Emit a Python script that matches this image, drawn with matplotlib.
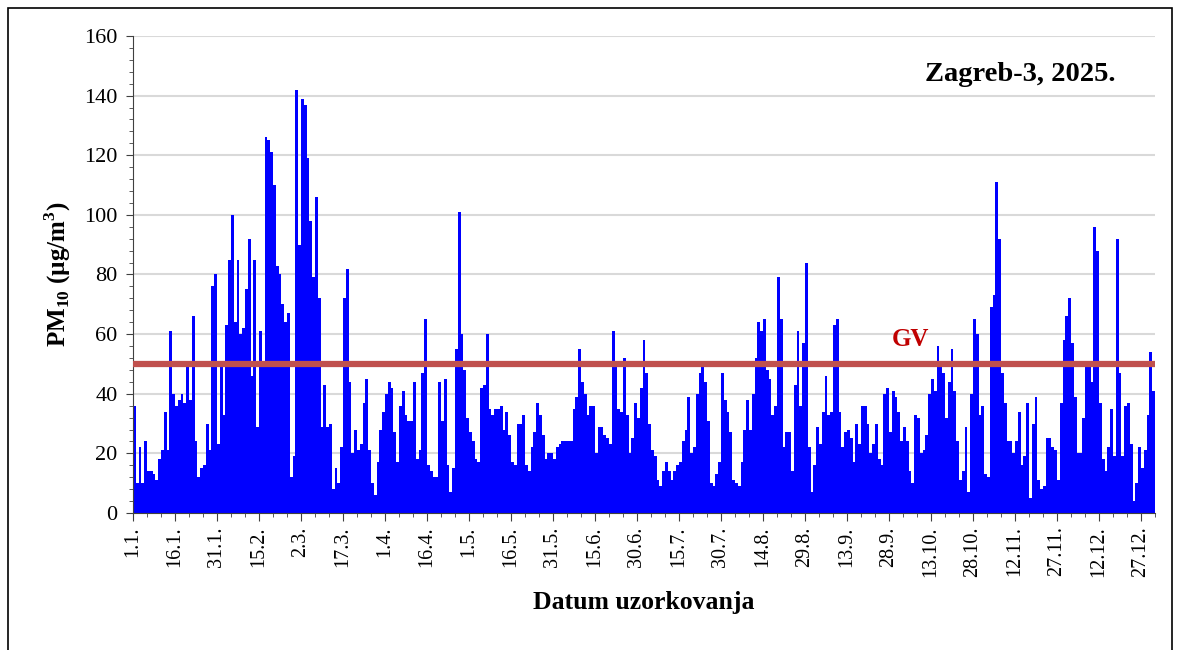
import numpy as np
import matplotlib.pyplot as plt
from matplotlib.ticker import MultipleLocator
from matplotlib.patches import Rectangle

plt.rcParams['font.family'] = ['Liberation Serif', 'DejaVu Serif']
plt.rcParams['mathtext.fontset'] = 'custom'
plt.rcParams['mathtext.rm'] = 'Liberation Serif:bold'
plt.rcParams['mathtext.bf'] = 'Liberation Serif:bold'

# daily PM10 values, Zagreb-3, 2025 (month blocks)
jan = [36, 10, 22, 10, 24, 14, 14, 13, 11, 18, 21, 34, 21, 61, 40, 36, 38, 40, 37, 51,
       38, 66, 24, 12, 15, 16, 30, 21, 76, 80]
feb = [23, 49, 33, 63, 85, 100, 64, 85, 60, 62, 75, 92, 46, 85, 29, 61, 51, 126, 125, 121,
       110, 83, 80, 70, 64, 67, 12, 19, 142]
mar = [90, 139, 137, 119, 98, 79, 106, 72, 29, 43, 29, 30, 8, 15, 10, 22, 72, 82, 44, 20,
       28, 21, 23, 37, 45, 21, 10, 6, 17, 28, 34]
apr = [40, 44, 42, 27, 17, 36, 41, 33, 31, 31, 44, 18, 21, 47, 65, 16, 14, 12, 12, 44,
       31, 45, 16, 7, 15, 55, 101, 60, 48, 32]
may = [27, 24, 18, 17, 42, 43, 60, 35, 33, 35, 35, 36, 28, 34, 26, 17, 16, 30, 30, 33,
       16, 14, 22, 27, 37, 33, 26, 18, 20, 20, 18]
jun = [22, 23, 24, 24, 24, 24, 35, 39, 55, 44, 40, 33, 36, 36, 20, 29, 29, 26, 25, 23,
       61, 49, 35, 34, 52, 33, 20, 25, 37, 32, 42]
jul = [58, 47, 30, 21, 19, 11, 9, 14, 17, 14, 11, 14, 16, 17, 24, 28, 39, 20, 22, 40,
       47, 51, 44, 31, 10, 9, 13, 17, 47, 38, 34]
aug = [27, 11, 10, 9, 17, 28, 38, 28, 40, 52, 64, 61, 65, 48, 45, 33, 36, 79, 65, 22,
       27, 27, 14, 43, 61, 36, 57, 84, 22, 7, 16]
sep = [29, 23, 34, 46, 33, 34, 63, 65, 34, 22, 27, 28, 25, 17, 30, 23, 36, 36, 30, 20,
       23, 30, 18, 16, 40, 42, 27, 41, 39, 34]
okt = [24, 29, 24, 14, 10, 33, 32, 20, 21, 26, 40, 45, 41, 56, 49, 47, 32, 44, 55, 41,
       24, 11, 14, 29, 7, 40, 65, 60, 33, 36]
nov = [13, 12, 69, 73, 111, 92, 47, 37, 24, 24, 20, 24, 34, 16, 19, 37, 5, 30, 39, 11,
       8, 9, 25, 25, 22, 21, 11, 37, 58, 66]
dec = [72, 57, 39, 20, 20, 32, 51, 51, 44, 96, 88, 37, 18, 14, 22, 35, 19, 92, 47, 19,
       36, 37, 23, 4, 10, 22, 15, 21, 33, 54, 41]

pm10 = jan + feb + mar + apr + may + jun + jul + aug + sep + okt + nov + dec
gv = 50

date_labels = ['1.1.', '16.1.', '31.1.', '15.2.', '2.3.', '17.3.', '1.4.', '16.4.', '1.5.',
               '16.5.', '31.5.', '15.6.', '30.6.', '15.7.', '30.7.', '14.8.', '29.8.',
               '13.9.', '28.9.', '13.10.', '28.10.', '12.11.', '27.11.', '12.12.', '27.12.']

n = len(pm10)
fig = plt.figure(figsize=(11.8, 6.5), dpi=100)
ax = fig.add_axes([0.1127, 0.2108, 0.8661, 0.7338])

ax.bar(np.arange(n), pm10, width=1.0, align='edge', color='#0000FF', linewidth=0, zorder=2)
ax.axhline(gv, color='#C0504D', linewidth=4.5, zorder=3)

ax.set_xlim(0, n)
ax.set_ylim(0, 160)
ax.yaxis.set_major_locator(MultipleLocator(20))
ax.yaxis.set_minor_locator(MultipleLocator(4))
ax.set_xticks(np.arange(0, n, 15)[:len(date_labels)])
ax.set_xticklabels(date_labels, rotation=90, fontsize=14.5)
ax.xaxis.set_minor_locator(MultipleLocator(5))
ax.tick_params(axis='y', labelsize=16, length=5, color='#404040', pad=6)
ax.tick_params(axis='y', which='minor', length=3, color='#404040')
ax.tick_params(axis='x', which='major', length=6, color='#404040')
ax.tick_params(axis='x', which='minor', length=3, color='#404040')
ax.grid(axis='y', color='#D9D9D9', linewidth=1.5, zorder=0)
ax.set_axisbelow(True)
for s in ['top', 'right']:
    ax.spines[s].set_visible(False)
for s in ['left', 'bottom']:
    ax.spines[s].set_color('#404040')

ax.set_ylabel('PM$_{10}$ (µg/m$^{3}$)', fontsize=18, fontweight='bold', labelpad=8)
ax.set_xlabel('Datum uzorkovanja', fontsize=18.5, fontweight='bold', labelpad=10)

ax.text(271, 56, 'GV', color='#C00000', fontsize=18, fontweight='bold', va='baseline')
ax.text(0.961, 0.906, 'Zagreb-3, 2025.', transform=ax.transAxes, ha='right', va='baseline',
        fontsize=20.5, fontweight='bold')

fig.patches.append(Rectangle((8 / 1180, -10 / 650), 1164 / 1180, 652 / 650, transform=fig.transFigure,
                             fill=False, edgecolor='black', linewidth=1.2))

fig.savefig('out.png', dpi=100)
